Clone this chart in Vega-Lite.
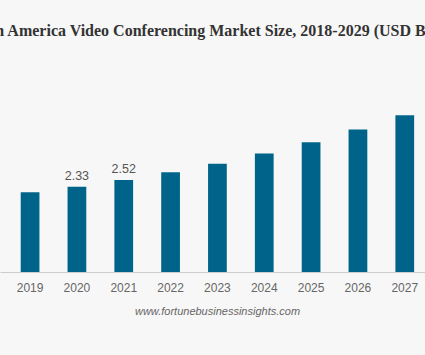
{
  "$schema": "https://vega.github.io/schema/vega-lite/v6.json",
  "autosize": {"type": "none"},
  "width": 425,
  "height": 226,
  "padding": {"top": 46, "left": 0, "right": 0, "bottom": 83},
  "background": "#f7f7f7",
  "config": {"view": {"stroke": null}},
  "title": {
    "text": "North America Video Conferencing Market Size, 2018-2029 (USD Billion)",
    "font": "Liberation Serif",
    "fontSize": 16,
    "fontWeight": "bold",
    "color": "#333333",
    "anchor": "middle",
    "dx": 2,
    "offset": 7
  },
  "data": {
    "values": [
      {"year": "2019", "value": 2.18},
      {"year": "2020", "value": 2.33},
      {"year": "2021", "value": 2.52},
      {"year": "2022", "value": 2.73},
      {"year": "2023", "value": 2.96},
      {"year": "2024", "value": 3.24},
      {"year": "2025", "value": 3.55},
      {"year": "2026", "value": 3.90},
      {"year": "2027", "value": 4.29}
    ]
  },
  "encoding": {
    "x": {
      "field": "year",
      "type": "ordinal",
      "scale": {"paddingInner": 0.6, "paddingOuter": 0.337, "align": 0.656},
      "axis": {
        "title": "www.fortunebusinessinsights.com",
        "titleFont": "Liberation Sans",
        "titleFontSize": 11,
        "titleFontStyle": "italic",
        "titleFontWeight": "normal",
        "titleColor": "#666666",
        "titlePadding": 12,
        "titleX": 217,
        "labelAngle": 0,
        "labelFont": "Liberation Sans",
        "labelFontSize": 12,
        "labelColor": "#666666",
        "labelPadding": 10,
        "ticks": false,
        "domainColor": "#cccccc",
        "grid": false
      }
    },
    "y": {
      "field": "value",
      "type": "quantitative",
      "scale": {"domain": [0, 6.183], "nice": false},
      "axis": null
    }
  },
  "layer": [
    {"mark": {"type": "bar", "color": "#00648a"}},
    {
      "transform": [{"filter": "datum.year == '2020' || datum.year == '2021'"}],
      "mark": {"type": "text", "baseline": "bottom", "dy": -4, "font": "Liberation Sans", "fontSize": 12.5, "color": "#555555"},
      "encoding": {"text": {"field": "value", "type": "quantitative", "format": ".2f"}}
    }
  ]
}
